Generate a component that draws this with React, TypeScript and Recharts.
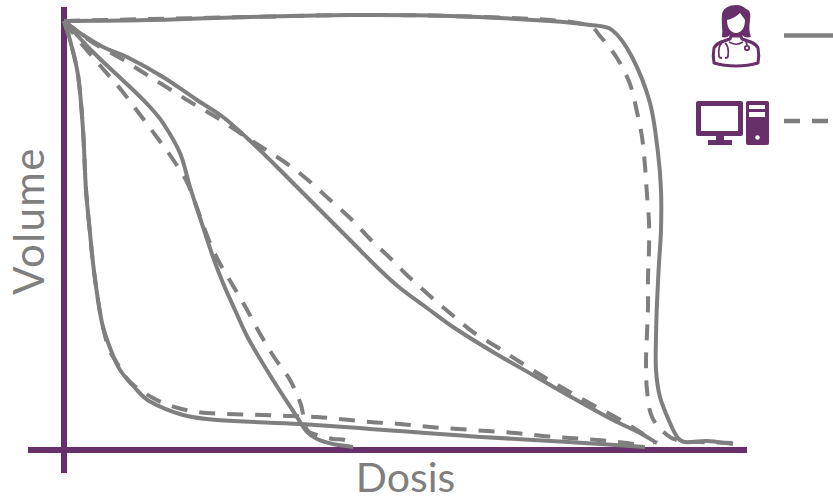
import React from "react";
import { LineChart, Line, XAxis, YAxis, ReferenceLine } from "recharts";

// Unitless dose / volume values
const doseExpertA = [0, 86, 186, 286, 386, 486, 526, 548, 568, 586, 594, 597, 597, 595, 593, 592, 592, 596, 606, 614, 621, 643, 669];
const volExpertA = [429, 430, 433, 435, 434, 429, 425, 420, 393, 347, 297, 260, 220, 187, 147, 113, 80, 53, 27, 12, 8, 9, 6];
const doseModelA = [0, 86, 186, 286, 386, 486, 526, 536, 553, 566, 573, 578, 581, 583, 585, 585, 584, 584, 583, 582, 583, 588, 603, 616, 636, 671];
const volModelA = [429, 431, 433, 435, 434, 430, 424, 414, 392, 366, 338, 313, 284, 255, 228, 200, 172, 143, 117, 88, 60, 33, 15, 9, 8, 7];

const doseExpertB = [0, 19, 39, 63, 99, 133, 159, 183, 209, 236, 263, 289, 316, 336, 363, 389, 429, 469, 509, 549, 576, 593];
const volExpertB = [429, 415, 403, 393, 373, 350, 333, 312, 287, 260, 233, 207, 180, 162, 142, 123, 98, 75, 52, 30, 17, 7];
const doseModelB = [0, 28, 58, 80, 104, 128, 152, 176, 199, 222, 244, 265, 286, 305, 325, 345, 366, 387, 409, 433, 456, 480, 504, 529, 553, 576, 591];
const volModelB = [429, 408, 391, 377, 362, 347, 333, 317, 302, 287, 270, 251, 232, 212, 193, 173, 154, 136, 118, 103, 88, 73, 59, 45, 32, 18, 7];

const doseExpertC = [0, 30, 66, 86, 99, 116, 126, 139, 149, 159, 171, 184, 209, 233, 243, 253, 269, 289];
const volExpertC = [429, 397, 363, 343, 327, 297, 263, 223, 193, 167, 140, 112, 70, 33, 18, 11, 6, 3];
const doseModelC = [0, 16, 40, 58, 74, 92, 108, 123, 133, 144, 154, 168, 182, 195, 210, 226, 237, 243, 253, 269, 281, 288];
const volModelC = [429, 408, 380, 359, 338, 314, 292, 268, 242, 212, 190, 166, 142, 118, 93, 70, 45, 20, 15, 11, 10, 5];

const doseExpertD = [0, 6, 14, 19, 22, 26, 29, 34, 39, 48, 56, 71, 85, 119, 153, 236, 306, 336, 403, 469, 536, 581];
const volExpertD = [429, 410, 375, 320, 260, 217, 187, 150, 123, 97, 80, 62, 49, 35, 30, 26, 21, 19, 14, 10, 6, 3];
const doseModelD = [0, 6, 14, 19, 22, 26, 29, 34, 39, 45, 53, 66, 89, 114, 143, 199, 226, 253, 306, 336, 366, 394, 423, 451, 479, 506, 534, 563, 576];
const volModelD = [429, 410, 375, 320, 260, 217, 187, 150, 123, 101, 87, 68, 52, 42, 37, 35, 34, 33, 28, 26, 23, 21, 19, 17, 14, 12, 10, 7, 5];

const doseDomain: [number, number] = [-36, 683];
const volumeDomain: [number, number] = [-23, 443];
const axisLabels = { x: "Dosis", y: "Volume" };

const GRAY = "#7f7f7f";
const PURPLE = "#68306a";
const FONT = "Lato, 'Open Sans', sans-serif";

const zip = (d: number[], v: number[]) => d.map((x, i) => ({ dose: x, volume: v[i] }));

const series = [
  { id: "expertA", data: zip(doseExpertA, volExpertA), dashed: false },
  { id: "modelA", data: zip(doseModelA, volModelA), dashed: true },
  { id: "expertB", data: zip(doseExpertB, volExpertB), dashed: false },
  { id: "modelB", data: zip(doseModelB, volModelB), dashed: true },
  { id: "expertC", data: zip(doseExpertC, volExpertC), dashed: false },
  { id: "modelC", data: zip(doseModelC, volModelC), dashed: true },
  { id: "expertD", data: zip(doseExpertD, volExpertD), dashed: false },
  { id: "modelD", data: zip(doseModelD, volModelD), dashed: true },
];

// Smooth curve factory with chord-length handles: the curves double back in x,
// so monotone curves do not apply, and the readings are unevenly spaced
const smoothCurve = (ctx: any) => {
  let pts: [number, number][] = [];
  const tangent = (a: [number, number], b: [number, number]): [number, number] => {
    const dx = b[0] - a[0];
    const dy = b[1] - a[1];
    const n = Math.hypot(dx, dy) || 1;
    return [dx / n, dy / n];
  };
  return {
    areaStart() {},
    areaEnd() {},
    lineStart() {
      pts = [];
    },
    point(x: number, y: number) {
      pts.push([+x, +y]);
    },
    lineEnd() {
      if (!pts.length) return;
      ctx.moveTo(pts[0][0], pts[0][1]);
      for (let i = 0; i < pts.length - 1; i++) {
        const p0 = pts[Math.max(i - 1, 0)];
        const p1 = pts[i];
        const p2 = pts[i + 1];
        const p3 = pts[Math.min(i + 2, pts.length - 1)];
        const h = Math.hypot(p2[0] - p1[0], p2[1] - p1[1]) / 3;
        const t1 = tangent(p0, p2);
        const t2 = tangent(p1, p3);
        ctx.bezierCurveTo(
          p1[0] + t1[0] * h,
          p1[1] + t1[1] * h,
          p2[0] - t2[0] * h,
          p2[1] - t2[1] * h,
          p2[0],
          p2[1]
        );
      }
    },
  };
};

const DoctorIcon = () => (
  <g>
    <path
      d="M722 37 C723 30 721 22 722 14 C723 8 730 5 736 5 C741 5 744 7 746 9 C750 10 751 14 750 20 C749 27 749 32 751 37 C747 38 744 37 742 35 L730 35 C728 37 725 38 722 37 Z"
      fill={PURPLE}
    />
    <path d="M727 20 C732 19 737 16 740 13 C742 16 744 18 745 20 C745 28 741 33 736 33 C731 33 727 28 727 20 Z" fill="#fff" />
    <path
      d="M731 36 L741 36 L742 39 C749 41 756 43 758 48 C759 53 759 58 758 63 C745 67 727 67 714 63 C713 58 713 53 714 48 C716 43 723 41 730 39 Z"
      fill="#fff"
      stroke={PURPLE}
      strokeWidth={3}
      strokeLinejoin="round"
    />
    <path d="M729 42 C735 45 738 45 743 42" fill="none" stroke={PURPLE} strokeWidth={1.6} />
    <path d="M722 43 C719 45 718 48 719 56 C719 58 722 58 722 58 M725 43 C728 45 729 48 728 56 C728 58 726 58 725 58" fill="none" stroke={PURPLE} strokeWidth={1.8} />
    <path d="M746 41 L747 45" stroke={PURPLE} strokeWidth={1.8} />
    <circle cx={747} cy={48} r={2.2} fill="#fff" stroke={PURPLE} strokeWidth={1.8} />
  </g>
);

const ComputerIcon = () => (
  <g fill={PURPLE}>
    <rect x={696} y={101} width={47} height={35} rx={2} />
    <rect x={701} y={106} width={37} height={25} fill="#fff" />
    <rect x={716} y={135} width={8} height={6} />
    <rect x={708} y={140} width={24} height={5} />
    <rect x={746} y={101} width={23} height={44} rx={2} />
    <rect x={749} y={105} width={16} height={4} fill="#fff" />
    <rect x={749} y={112} width={16} height={5} fill="#fff" />
    <circle cx={757.5} cy={137.5} r={2.2} fill="#fff" />
  </g>
);

export default function App() {
  return (
    <div style={{ position: "absolute", left: 0, top: 0, width: 833, height: 500 }}>
      <LineChart width={833} height={500} margin={{ left: 28, right: 86, top: 7, bottom: 27 }}>
        <XAxis type="number" dataKey="dose" domain={doseDomain} hide allowDataOverflow />
        <YAxis type="number" dataKey="volume" domain={volumeDomain} hide allowDataOverflow />
        <ReferenceLine x={0} stroke={PURPLE} strokeWidth={6} />
        <ReferenceLine y={0} stroke={PURPLE} strokeWidth={6} />
        {series.map((s) => (
          <Line
            key={s.id}
            data={s.data}
            dataKey="volume"
            type={smoothCurve as any}
            stroke={GRAY}
            strokeWidth={4}
            strokeLinecap="butt"
            strokeDasharray={s.dashed ? "16 12" : undefined}
            dot={false}
            activeDot={false}
            isAnimationActive={false}
          />
        ))}
        <text x={405.5} y={492} textAnchor="middle" fontFamily={FONT} fontSize={41} fill={GRAY}>
          {axisLabels.x}
        </text>
        <text
          transform="translate(44,221) rotate(-90)"
          textAnchor="middle"
          fontFamily={FONT}
          fontSize={42}
          letterSpacing={1.4}
          fill={GRAY}
        >
          {axisLabels.y}
        </text>
        <DoctorIcon />
        <ComputerIcon />
        <line x1={784} y1={35.5} x2={833} y2={35.5} stroke={GRAY} strokeWidth={4.4} />
        <line x1={784} y1={121} x2={833} y2={121} stroke={GRAY} strokeWidth={4.4} strokeDasharray="16 12" />
      </LineChart>
    </div>
  );
}
